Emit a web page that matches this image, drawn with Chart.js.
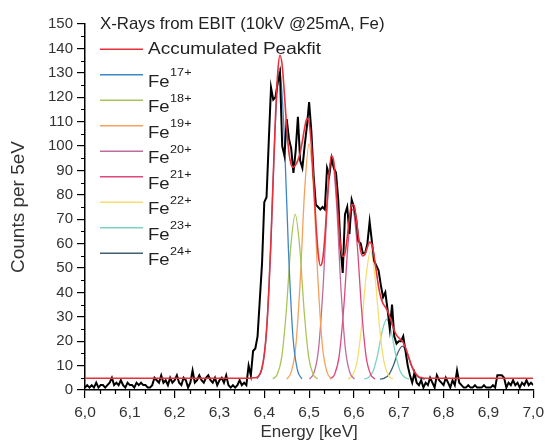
<!DOCTYPE html>
<html>
<head>
<meta charset="utf-8">
<script src="https://cdn.jsdelivr.net/npm/chart.js@4.4.1/dist/chart.umd.min.js"></script>
<style>
  html, body { margin: 0; padding: 0; background: #fff; }
  #wrap { width: 549px; height: 446px; }
</style>
</head>
<body>
<div id="wrap"><canvas id="xray" width="549" height="446"></canvas></div>
<script>
// measured spectrum, 5 eV bins starting at 6.000 keV
const energyStart = 6.0;
const binWidth = 0.005;
const counts = [
  1, 2, 1, 2, 1, 3, 1, 2, 2, 1, 2, 3, 5, 2, 3, 2, 4, 2, 1, 3,
  2, 2, 1, 3, 2, 3, 2, 2, 1, 1, 2,
  5, 4, 3, 6, 3, 4, 2, 5, 3, 4, 6, 3, 2, 5, 4, 1, 3, 8, 3, 4,
  6, 4, 3, 5, 6, 4, 3, 5, 2, 4, 5, 3, 6, 2, 1, 2, 1, 2, 4, 2, 3, 2,
  10, 6, 16, 17, 22, 37, 52, 77, 79, 102, 124, 119, 120, 126, 130, 100,
  96, 111, 103, 99, 89, 98, 112, 94, 91, 100, 108, 118, 106, 88, 76, 75,
  74, 75, 74, 91, 88, 95, 91, 89, 78, 59, 48, 72, 75, 64, 78, 75,
  70, 61, 60, 56, 56, 60, 69, 61, 53, 51, 49, 43, 38, 40, 33, 25,
  35, 22, 19, 20, 20, 22, 16, 10, 6, 3, 7, 3,
  2, 4, 1, 3, 2, 5, 3, 1, 6, 4, 3, 2, 5, 3, 1, 4, 2,
  8, 3, 2,
  1, 1, 2, 1, 1, 2, 1, 1, 1, 2, 1, 1, 1, 2, 1,
  6, 6, 6, 5,
  1, 3, 2, 4, 2, 3, 1, 3, 2, 4, 2, 3, 2
];

// accumulated peak fit [keV, counts]
const peakfit = [
  [6.000, 4.8], [6.370, 4.8], [6.375, 5.0], [6.380, 5.0], [6.385, 5.4], [6.390, 6.5],
  [6.395, 9.1], [6.400, 14.6], [6.405, 24.4], [6.410, 40.2], [6.415, 62.0], [6.420, 87.6],
  [6.425, 112.2], [6.430, 130.1], [6.435, 137.2], [6.440, 132.9], [6.445, 121.1], [6.450, 107.6],
  [6.455, 97.4], [6.460, 92.4], [6.465, 91.3], [6.470, 92.3], [6.475, 94.2], [6.480, 97.2],
  [6.485, 102.0], [6.490, 107.4], [6.495, 111.3], [6.500, 109.6], [6.505, 100.7], [6.510, 85.9],
  [6.515, 69.1], [6.520, 56.4], [6.525, 51.0], [6.530, 53.2], [6.535, 62.4], [6.540, 76.8],
  [6.545, 89.6], [6.550, 96.0], [6.555, 93.6], [6.560, 83.7], [6.565, 70.6], [6.570, 59.1],
  [6.575, 54.7], [6.580, 56.0], [6.585, 62.4], [6.590, 70.6], [6.595, 76.0], [6.600, 75.8],
  [6.605, 70.6], [6.610, 62.9], [6.615, 57.0], [6.620, 54.9], [6.625, 55.9], [6.630, 58.5],
  [6.635, 60.6], [6.640, 59.6], [6.645, 55.0], [6.650, 48.6], [6.655, 42.3], [6.660, 37.9],
  [6.665, 35.4], [6.670, 34.0], [6.675, 32.4], [6.680, 30.0], [6.685, 27.1], [6.690, 24.4],
  [6.695, 22.5], [6.700, 21.4], [6.705, 20.5], [6.710, 19.4], [6.715, 17.4], [6.720, 14.8],
  [6.725, 11.9], [6.730, 9.4], [6.735, 7.5], [6.740, 6.2], [6.745, 5.4], [6.750, 5.1],
  [6.755, 4.9], [6.760, 4.8], [7.000, 4.8]
];

// single charge-state peaks [keV, counts]
const fe17 = [[6.384, 4.5], [6.394, 8.2], [6.404, 21.7], [6.414, 56.9], [6.424, 106.6], [6.434, 132], [6.444, 106.6], [6.454, 56.9], [6.464, 21.7], [6.474, 8.2], [6.484, 4.5]];
const fe18 = [[6.419, 4.5], [6.429, 6.5], [6.439, 13.6], [6.449, 32.2], [6.459, 58.6], [6.469, 72], [6.479, 58.6], [6.489, 32.2], [6.499, 13.6], [6.509, 6.5], [6.519, 4.5]];
const fe19 = [[6.450, 4.5], [6.460, 7.3], [6.470, 17.5], [6.480, 44.2], [6.490, 81.8], [6.500, 101], [6.510, 81.8], [6.520, 44.2], [6.530, 17.5], [6.540, 7.3], [6.550, 4.5]];
const fe20 = [[6.501, 4.5], [6.511, 7.1], [6.521, 16.7], [6.531, 41.7], [6.541, 77], [6.551, 95], [6.561, 77], [6.571, 41.7], [6.581, 16.7], [6.591, 7.1], [6.601, 4.5]];
const fe21 = [[6.547, 4.5], [6.557, 6.5], [6.567, 13.9], [6.577, 33.1], [6.587, 60.2], [6.597, 74], [6.607, 60.2], [6.617, 33.1], [6.627, 13.9], [6.637, 6.5], [6.647, 4.5]];
const fe22 = [[6.587, 4.5], [6.597, 6.0], [6.607, 11.6], [6.617, 26.1], [6.627, 46.5], [6.637, 57], [6.647, 46.5], [6.657, 26.1], [6.667, 11.6], [6.677, 6.0], [6.687, 4.5]];
const fe23 = [[6.623, 4.5], [6.633, 5.2], [6.643, 7.8], [6.653, 14.6], [6.663, 24.1], [6.673, 29], [6.683, 24.1], [6.693, 14.6], [6.703, 7.8], [6.713, 5.2], [6.723, 4.5]];
const fe24 = [[6.658, 4.5], [6.668, 4.9], [6.678, 6.3], [6.688, 10], [6.698, 15.3], [6.708, 18], [6.718, 15.3], [6.728, 10], [6.738, 6.3], [6.748, 4.9], [6.758, 4.5]];

const ionPeaks = [fe17, fe18, fe19, fe20, fe21, fe22, fe23, fe24];
const ionCharges = ["17+", "18+", "19+", "20+", "21+", "22+", "23+", "24+"];
const ionColors = ["#3f86c4", "#a9c45a", "#f4a25c", "#c06c9a", "#e0487c", "#f6dd72", "#7cd3c2", "#405f72"];

const legendTitle = "X-Rays from EBIT (10kV @25mA, Fe)";
const fitLabel = "Accumulated Peakfit";
const FONT = '"Liberation Sans", Arial, sans-serif';

const spectrum = counts.map((c, i) => ({ x: energyStart + i * binWidth, y: c }));

const datasets = [
  {
    label: fitLabel,
    data: peakfit,
    borderColor: "#e8303a",
    borderWidth: 1.6,
    cubicInterpolationMode: "monotone",
  },
  {
    label: "Measurement",
    data: spectrum,
    borderColor: "#000",
    borderWidth: 2,
    tension: 0,
  },
];
ionPeaks.forEach((peak, k) => {
  datasets.push({
    label: "Fe" + ionCharges[k],
    data: peak,
    borderColor: ionColors[k],
    borderWidth: 1.3,
    cubicInterpolationMode: "monotone",
  });
});

// text drawn a bit wider than tall, like the exported figure
function wideText(ctx, text, x, y, sx) {
  ctx.save();
  ctx.translate(x, y);
  ctx.scale(sx, 1);
  ctx.fillText(text, 0, 0);
  ctx.restore();
  return ctx.measureText(text).width * sx;
}

// hand drawn legend so the charge states can be superscripts
const legendPlugin = {
  id: "ionLegend",
  afterDraw(chart) {
    const ctx = chart.ctx;
    const x0 = 100, lineEnd = 143, textX = 148;
    const rowY = (k) => 49.3 + 25.5 * k;
    ctx.save();
    ctx.fillStyle = "#222";
    ctx.font = "16.5px " + FONT;
    ctx.textBaseline = "middle";
    wideText(ctx, legendTitle, x0, 24, 1.02);

    const entries = [{ label: fitLabel, color: "#e8303a" }].concat(
      ionCharges.map((c, k) => ({ label: "Fe", sup: c, color: ionColors[k] }))
    );
    entries.forEach((e, k) => {
      const y = rowY(k);
      ctx.strokeStyle = e.color;
      ctx.lineWidth = 1.5;
      ctx.beginPath();
      ctx.moveTo(x0, y);
      ctx.lineTo(lineEnd, y);
      ctx.stroke();
      ctx.font = "16.5px " + FONT;
      if (!e.sup) {
        ctx.textBaseline = "middle";
        wideText(ctx, e.label, textX, y, 1.15);
      } else {
        ctx.textBaseline = "alphabetic";
        const w = wideText(ctx, e.label, textX, y + 12, 1.12);
        ctx.font = "11.5px " + FONT;
        wideText(ctx, e.sup, textX + w + 0.5, y + 1.5, 1.1);
      }
    });
    ctx.restore();
  },
};

// minor ticks like the original plot
const minorTicks = {
  id: "minorTicks",
  afterDraw(chart) {
    const ctx = chart.ctx;
    const xs = chart.scales.x, ys = chart.scales.y;
    ctx.save();
    ctx.strokeStyle = "#000";
    ctx.lineWidth = 1.2;
    ctx.beginPath();
    for (let v = 5; v < 150; v += 10) {
      const py = Math.round(ys.getPixelForValue(v)) + 0.5;
      ctx.moveTo(xs.left, py);
      ctx.lineTo(xs.left - 4, py);
    }
    for (let k = 1; k < 30; k++) {
      if (k % 3 === 0) continue;
      const px = Math.round(xs.getPixelForValue(6 + k / 30)) + 0.5;
      ctx.moveTo(px, ys.bottom);
      ctx.lineTo(px, ys.bottom + 4);
    }
    ctx.stroke();
    ctx.restore();
  },
};

new Chart(document.getElementById("xray"), {
  type: "line",
  data: { datasets: datasets },
  options: {
    responsive: false,
    animation: false,
    elements: { point: { radius: 0, hoverRadius: 0 } },
    layout: { padding: { top: 24, right: 12, left: 0, bottom: 0 } },
    plugins: {
      legend: { display: false },
      tooltip: { enabled: false },
    },
    scales: {
      x: {
        type: "linear",
        min: 6,
        max: 7,
        afterFit: (scale) => { scale.height = 56; },
        ticks: {
          stepSize: 0.1,
          color: "#333",
          font: { family: FONT, size: 15.5 },
          padding: 5,
          maxRotation: 0,
          callback: (v) => v.toFixed(1).replace(".", ","),
        },
        grid: { drawOnChartArea: false, drawTicks: true, tickLength: 8, color: "#000", lineWidth: 1.2 },
        border: { display: true, color: "#000", width: 1.5 },
        title: {
          display: true,
          text: "Energy [keV]",
          color: "#333",
          font: { family: FONT, size: 17 },
          padding: { top: 0, bottom: 3 },
        },
      },
      y: {
        min: 0,
        max: 150,
        afterFit: (scale) => { scale.width = 85; },
        ticks: {
          stepSize: 10,
          color: "#333",
          font: { family: FONT, size: 15 },
          padding: 4,
        },
        grid: { drawOnChartArea: false, drawTicks: true, tickLength: 8, color: "#000", lineWidth: 1.2 },
        border: { display: true, color: "#000", width: 1.5 },
        title: {
          display: true,
          text: "Counts per 5eV",
          color: "#333",
          font: { family: FONT, size: 19 },
          padding: { top: 7, bottom: 0 },
        },
      },
    },
  },
  plugins: [legendPlugin, minorTicks],
});
</script>
</body>
</html>
